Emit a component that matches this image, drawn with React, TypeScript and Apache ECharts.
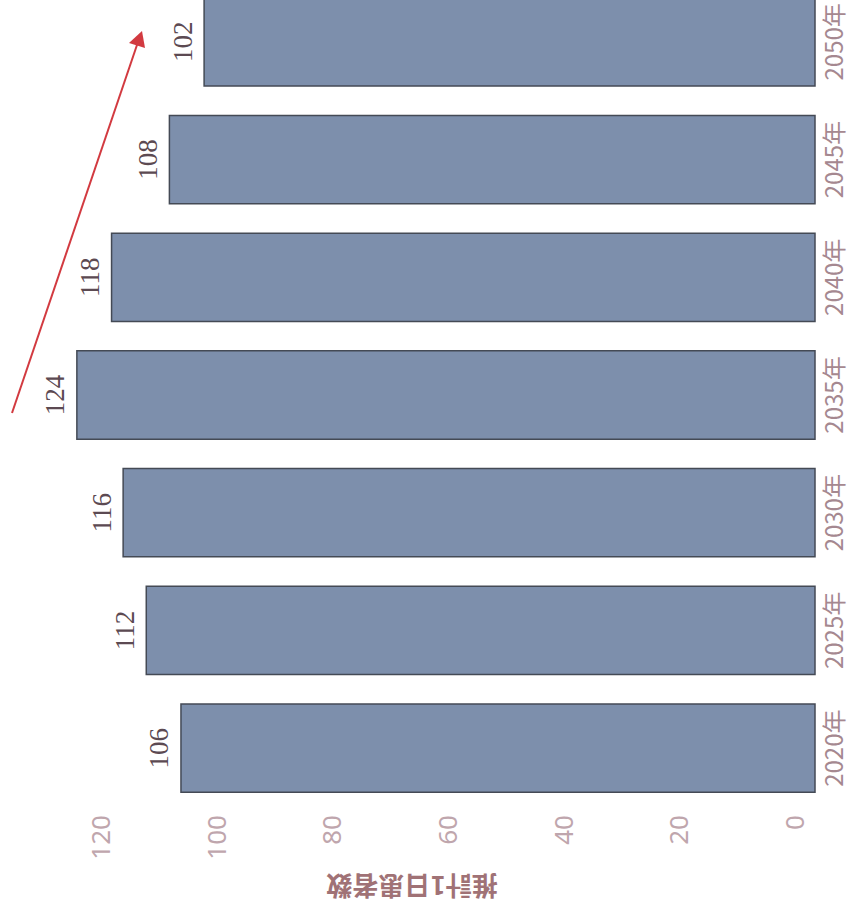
import React, { useEffect, useRef } from "react";
import * as echarts from "echarts";

// 推計1日患者数 by year (labels shown on each bar)
const years = ["2020年", "2025年", "2030年", "2035年", "2040年", "2045年", "2050年"];
const patients = [106, 112, 116, 124, 118, 108, 102];
const valueTicks = { min: 0, max: 120, interval: 20 };
const axisTitle = "推計1日患者数";

const BAR_FILL = "#7d8fac";
const BAR_EDGE = "#444a55";
// the chart canvas starts above the page top so the 2050 bar runs off the edge
const SHIFT = 17;

export default function App() {
  const ref = useRef<HTMLDivElement>(null);

  useEffect(() => {
    if (!ref.current) return;
    const chart = echarts.init(ref.current, undefined, { renderer: "svg" });

    const data = patients.map((v, i) => [v, i]);

    chart.setOption({
      animation: false,
      backgroundColor: "#ffffff",
      grid: { left: 100, right: 56, top: 0, bottom: 103 },
      xAxis: {
        type: "value",
        inverse: true,
        position: "bottom",
        min: valueTicks.min,
        max: valueTicks.max,
        interval: valueTicks.interval,
        axisLine: { show: false },
        axisTick: { show: false },
        splitLine: { show: false },
        axisLabel: {
          rotate: 90,
          margin: 8,
          color: "#bfa6ad",
          fontSize: 26,
          fontFamily: "Noto Sans",
        },
      },
      yAxis: {
        type: "category",
        position: "right",
        data: years,
        axisLine: { show: false },
        axisTick: { show: false },
        axisLabel: {
          rotate: 90,
          margin: 26,
          color: "#a58890",
          fontSize: 24,
          fontFamily: "Noto Sans CJK JP",
        },
      },
      series: [
        {
          type: "custom",
          data,
          renderItem: (params: any, api: any) => {
            const val = api.value(0);
            const cat = api.value(1);
            const end = api.coord([val, cat]);
            const zero = api.coord([0, cat]);
            const band = api.size([0, 1])[1];
            const h = band * 0.75;
            const x0 = end[0];
            const x1 = zero[0] + 21; // bars run a little past the baseline
            return {
              type: "group",
              children: [
                {
                  type: "rect",
                  shape: { x: x0, y: end[1] - h / 2, width: x1 - x0, height: h },
                  style: { fill: BAR_FILL, stroke: BAR_EDGE, lineWidth: 1.5 },
                },
                {
                  type: "text",
                  x: x0 - 8,
                  y: end[1],
                  rotation: Math.PI / 2,
                  style: {
                    text: String(val),
                    fill: "#5c4a52",
                    fontSize: 27,
                    fontFamily: "Liberation Serif",
                    align: "center",
                    verticalAlign: "bottom",
                  },
                },
              ],
            };
          },
        },
      ],
      graphic: [
        {
          type: "text",
          x: 412,
          y: 887 + SHIFT,
          rotation: Math.PI,
          style: {
            text: axisTitle,
            fill: "#a07276",
            fontSize: 26,
            fontWeight: "bold",
            fontFamily: "Noto Sans CJK JP",
            align: "center",
            verticalAlign: "middle",
          },
        },
        {
          type: "line",
          shape: { x1: 12, y1: 413 + SHIFT, x2: 138, y2: 42 + SHIFT },
          style: { stroke: "#d23a40", lineWidth: 2 },
        },
        {
          type: "polygon",
          shape: {
            points: [
              [142, 31 + SHIFT],
              [129, 43 + SHIFT],
              [145, 48 + SHIFT],
            ],
          },
          style: { fill: "#d23a40" },
        },
      ],
    });

    return () => chart.dispose();
  }, []);

  return (
    <div
      ref={ref}
      style={{ position: "absolute", left: 0, top: -SHIFT, width: 850, height: 910 + SHIFT }}
    />
  );
}
